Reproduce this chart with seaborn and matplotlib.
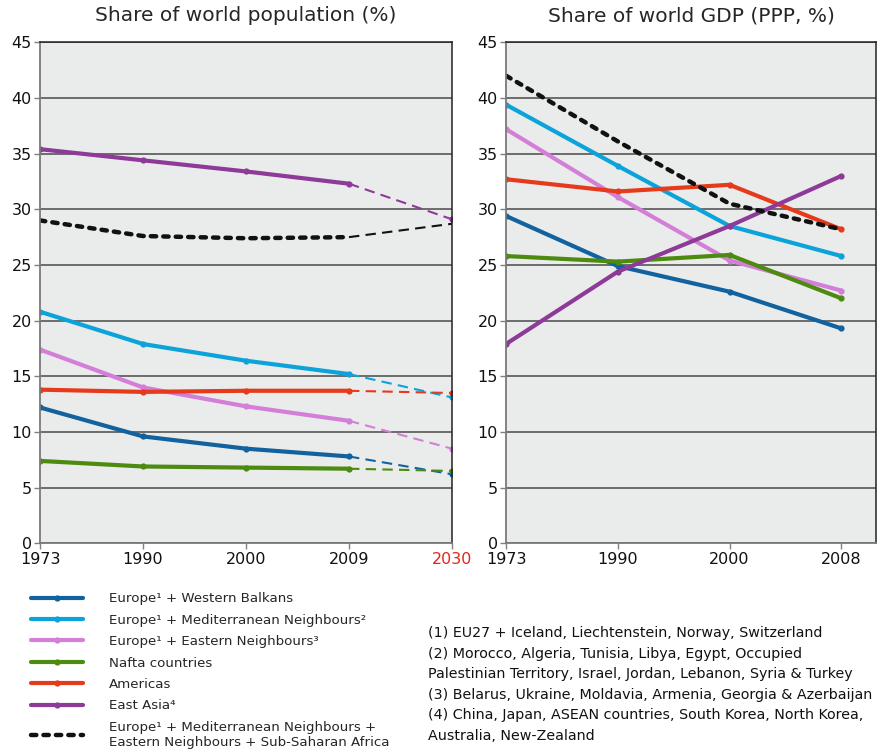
import matplotlib
matplotlib.use("Agg")
import matplotlib.pyplot as plt
import seaborn as sns
import pandas as pd

# data
pop_years = ['1973', '1990', '2000', '2009']
proj_years = ['2009', '2030']
gdp_years = ['1973', '1990', '2000', '2008']

series = ['Europe¹ + Western Balkans',
          'Europe¹ + Mediterranean Neighbours²',
          'Europe¹ + Eastern Neighbours³',
          'Nafta countries',
          'Americas',
          'East Asia⁴',
          'Europe¹ + Mediterranean Neighbours +\nEastern Neighbours + Sub-Saharan Africa']
colors = ['#11629e', '#0ba3da', '#d37fd9', '#4c8a10', '#e63a1c', '#8e3a98', '#111111']

pop_hist = [[12.2, 9.6, 8.5, 7.8],
            [20.8, 17.9, 16.4, 15.2],
            [17.4, 14.0, 12.3, 11.0],
            [7.4, 6.9, 6.8, 6.7],
            [13.8, 13.6, 13.7, 13.7],
            [35.4, 34.4, 33.4, 32.3],
            [29.0, 27.6, 27.4, 27.5]]
pop_2030 = [6.2, 13.1, 8.5, 6.5, 13.5, 29.1, 28.7]

gdp = [[29.4, 24.9, 22.6, 19.3],
       [39.4, 33.9, 28.5, 25.8],
       [37.2, 31.1, 25.4, 22.7],
       [25.8, 25.3, 25.9, 22.0],
       [32.7, 31.6, 32.2, 28.2],
       [17.9, 24.4, 28.5, 33.0],
       [42.0, 36.1, 30.5, 28.2]]

sns.set_theme(style='white')
plt.rcParams['font.family'] = ['DejaVu Sans']

fig = plt.figure(figsize=(8.82, 7.52), dpi=100)
ax1 = fig.add_axes([40/882, 1-543.3/752, 412/882, 501/752])
ax2 = fig.add_axes([506/882, 1-543.3/752, 370/882, 501/752])


def style_line(i):
    if i == 6:
        return dict(lw=3.2, linestyle=(0, (1.2, 1.6)), dash_capstyle='round', marker=None)
    return dict(lw=3.0, marker='o', markersize=4.5, markeredgewidth=0)


handles = []
for i in range(len(series)):
    df = pd.DataFrame({'year': pop_years, 'val': pop_hist[i]})
    sns.lineplot(data=df, x='year', y='val', ax=ax1, color=colors[i], sort=False, **style_line(i))
    handles.append(ax1.lines[-1])
for i in range(len(series)):
    dfp = pd.DataFrame({'year': proj_years, 'val': [pop_hist[i][-1], pop_2030[i]]})
    mk = dict(marker='o', markersize=4.5, markeredgewidth=0, markevery=[1]) if i != 6 else {}
    sns.lineplot(data=dfp, x='year', y='val', ax=ax1, color=colors[i], sort=False,
                 lw=1.5, linestyle=(0, (5, 3)), **mk)

for i in range(len(series)):
    df = pd.DataFrame({'year': gdp_years, 'val': gdp[i]})
    sns.lineplot(data=df, x='year', y='val', ax=ax2, color=colors[i], sort=False, **style_line(i))

for ax, xmax, title in [(ax1, 4, 'Share of world population (%)'),
                        (ax2, 3.31, 'Share of world GDP (PPP, %)')]:
    ax.set_facecolor('#eaeceb')
    ax.set_xlim(0, xmax)
    ax.set_ylim(0, 45)
    ax.set_yticks(range(0, 46, 5))
    ax.set_xlabel('')
    ax.set_ylabel('')
    ax.set_title(title, fontsize=14.5, pad=15)
    ax.yaxis.grid(True, color='#4a4a4a', lw=1.1)
    ax.set_axisbelow(True)
    ax.tick_params(axis='both', labelsize=11.5, colors='#111111', length=4,
                   width=1, direction='out', pad=2, left=True, bottom=True)
    ax.tick_params(axis='both', color='#808080')
    for s in ['left', 'bottom']:
        ax.spines[s].set_color('#7a7a7a')
        ax.spines[s].set_linewidth(1.3)
    ax.spines['right'].set_color('#222222')
    ax.spines['right'].set_linewidth(1.1)
    ax.spines['top'].set_color('#222222')
    ax.spines['top'].set_linewidth(1.1)

for lab in ax1.get_xticklabels():
    if lab.get_text() == '2030':
        lab.set_color('#e3261a')

fig.legend(handles, series, loc='upper left', bbox_to_anchor=(26/882, 1-587/752),
           frameon=False, fontsize=9.6, handlelength=3.9, handletextpad=1.9,
           labelspacing=0.63, borderaxespad=0)

notes = ('(1) EU27 + Iceland, Liechtenstein, Norway, Switzerland\n'
         '(2) Morocco, Algeria, Tunisia, Libya, Egypt, Occupied\n'
         'Palestinian Territory, Israel, Jordan, Lebanon, Syria & Turkey\n'
         '(3) Belarus, Ukraine, Moldavia, Armenia, Georgia & Azerbaijan\n'
         '(4) China, Japan, ASEAN countries, South Korea, North Korea,\n'
         'Australia, New-Zealand')
fig.text(428/882, 1-626/752, notes, fontsize=10.3, va='top', ha='left',
         linespacing=1.6, color='#111111')

fig.savefig('out.png', dpi=100)
